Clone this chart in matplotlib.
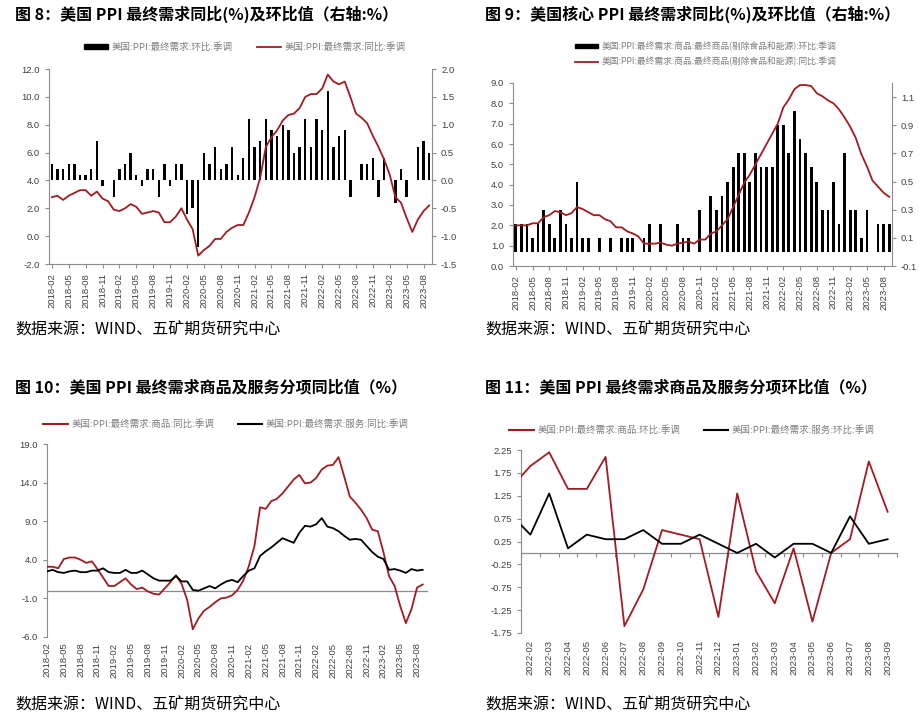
import numpy as np
import pandas as pd
import matplotlib
matplotlib.use('Agg')
import matplotlib.pyplot as plt
from matplotlib.lines import Line2D
from matplotlib.patches import Patch

plt.rcParams['font.family'] = ['Noto Sans CJK SC', 'DejaVu Sans']

# ---------------- data ----------------
months = list(pd.period_range('2018-02', '2023-09', freq='M').strftime('%Y-%m'))

# Fig 8: PPI final demand
ppi_mom = [0.3, 0.2, 0.2, 0.3, 0.3, 0.1, 0.1, 0.2, 0.7, -0.1, 0.0,
           -0.3, 0.2, 0.3, 0.5, 0.1, -0.1, 0.2, 0.2, -0.3, 0.3, -0.1, 0.3,
           0.3, -0.6, -0.5, -1.2, 0.5, 0.3, 0.6, 0.2, 0.3, 0.6, 0.1, 0.4,
           1.1, 0.6, 0.7, 1.1, 0.9, 0.8, 1.0, 0.9, 0.5, 0.6, 1.1, 0.6,
           1.1, 0.9, 1.6, 0.6, 0.8, 0.9, -0.3, 0.0, 0.3, 0.3, 0.4, -0.3,
           0.4, 0.0, -0.4, 0.2, -0.3, 0.0, 0.6, 0.7, 0.5]
ppi_yoy = [2.8, 2.9, 2.6, 2.9, 3.1, 3.3, 3.3, 2.9, 3.2, 2.7, 2.5,
           1.9, 1.8, 2.0, 2.3, 2.1, 1.6, 1.7, 1.8, 1.7, 1.0, 1.0, 1.4,
           2.0, 1.2, 0.5, -1.4, -1.0, -0.7, -0.2, -0.2, 0.3, 0.6, 0.8, 0.8,
           1.7, 2.8, 4.2, 6.4, 7.1, 7.6, 8.3, 8.7, 8.8, 9.2, 10.0, 10.2,
           10.2, 10.6, 11.6, 11.1, 10.9, 11.1, 10.0, 8.8, 8.5, 8.1, 7.2, 6.4,
           5.5, 4.4, 2.8, 2.4, 1.3, 0.3, 1.2, 1.8, 2.2]

# Fig 9: core goods
core_mom = [0.2, 0.2, 0.2, 0.1, 0.2, 0.3, 0.2, 0.1, 0.3, 0.2, 0.1,
            0.5, 0.1, 0.1, 0.0, 0.1, 0.0, 0.1, 0.0, 0.1, 0.1, 0.1, 0.0,
            0.1, 0.2, 0.0, 0.2, 0.0, 0.0, 0.2, 0.1, 0.1, 0.0, 0.3, 0.0,
            0.4, 0.3, 0.4, 0.5, 0.6, 0.7, 0.7, 0.5, 0.7, 0.6, 0.6, 0.6,
            0.9, 0.9, 0.7, 1.0, 0.8, 0.7, 0.6, 0.5, 0.3, 0.3, 0.5, 0.2,
            0.7, 0.3, 0.3, 0.1, 0.3, 0.0, 0.2, 0.2, 0.2]
core_yoy = [2.0, 2.0, 2.0, 2.1, 2.1, 2.4, 2.5, 2.7, 2.65, 2.5, 2.6,
            2.9, 2.8, 2.65, 2.5, 2.5, 2.3, 2.2, 1.9, 1.9, 1.7, 1.6, 1.45,
            1.1, 1.1, 1.1, 1.15, 1.05, 1.0, 1.1, 1.15, 1.2, 1.1, 1.3, 1.3,
            1.6, 1.7, 2.0, 2.3, 2.9, 3.5, 4.1, 4.5, 5.0, 5.5, 6.0, 6.5,
            7.0, 7.8, 8.2, 8.7, 8.9, 8.9, 8.85, 8.5, 8.35, 8.15, 8.0, 7.7,
            7.3, 6.85, 6.3, 5.5, 4.9, 4.2, 3.9, 3.6, 3.4]

# Fig 10: goods / services YoY
goods_yoy = [3.1, 3.1, 2.9, 4.1, 4.3, 4.3, 4.0, 3.6, 3.8, 2.8, 1.7,
             0.6, 0.6, 1.1, 1.6, 0.8, 0.2, 0.4, -0.1, -0.4, -0.5, 0.3, 1.1,
             2.0, 0.9, -1.2, -5.0, -3.6, -2.6, -2.1, -1.5, -1.0, -0.9, -0.6, 0.1,
             1.3, 3.2, 5.8, 10.8, 10.6, 11.6, 11.9, 12.6, 13.5, 14.4, 15.0, 13.9,
             14.0, 14.6, 15.7, 16.2, 16.3, 17.3, 14.8, 12.2, 11.4, 10.5, 9.4, 7.9,
             7.7, 5.0, 1.9, 0.6, -2.0, -4.2, -2.4, 0.4, 0.8]
serv_yoy = [2.5, 2.7, 2.4, 2.3, 2.5, 2.6, 2.4, 2.4, 2.6, 2.6, 2.9,
            2.4, 2.3, 2.3, 2.7, 2.3, 2.3, 2.6, 2.1, 1.6, 1.3, 1.3, 1.3,
            1.9, 1.2, 1.2, 0.1, 0.0, 0.3, 0.6, 0.3, 0.8, 1.2, 1.4, 1.1,
            1.9, 2.6, 2.9, 4.5, 5.1, 5.6, 6.2, 6.8, 6.5, 6.2, 7.5, 8.4,
            8.3, 8.6, 9.4, 8.3, 8.1, 7.7, 7.1, 6.6, 6.7, 6.6, 5.8, 5.0,
            4.4, 4.1, 2.7, 2.8, 2.6, 2.3, 2.8, 2.6, 2.7]

# Fig 11: goods / services MoM (first month lies just left of the axis)
months11 = list(pd.period_range('2022-01', '2023-09', freq='M').strftime('%Y-%m'))
goods_mom = [1.44, 1.9, 2.2, 1.4, 1.4, 2.1, -1.6, -0.8, 0.5, 0.4, 0.3, -1.4,
             1.3, -0.4, -1.1, 0.1, -1.5, 0.0, 0.3, 2.0, 0.9]
serv_mom = [0.82, 0.4, 1.3, 0.1, 0.4, 0.3, 0.3, 0.5, 0.2, 0.2, 0.4, 0.2,
            0.0, 0.2, -0.1, 0.2, 0.2, 0.0, 0.8, 0.2, 0.3]

# ---------------- styling ----------------
W, H = 920, 720
RED = '#A01C22'
AX = '#8c8c8c'
TXT = '#404040'
NUMFONT = ['Liberation Sans', 'DejaVu Sans']

fig = plt.figure(figsize=(W / 100, H / 100), dpi=100)


def rect(l, t, r, b):
    return [l / W, 1 - b / H, (r - l) / W, (b - t) / H]


def fx(x):
    return x / W


def fy(y):
    return 1 - y / H


def style(ax, left=True, right=False, bottom=True):
    for s in ['top', 'right', 'left', 'bottom']:
        ax.spines[s].set_visible(False)
    if left:
        ax.spines['left'].set_visible(True)
        ax.spines['left'].set_color(AX)
    if right:
        ax.spines['right'].set_visible(True)
        ax.spines['right'].set_color(AX)
    if bottom:
        ax.spines['bottom'].set_visible(True)
        ax.spines['bottom'].set_color(AX)
    ax.tick_params(colors=AX, labelcolor=TXT, labelsize=6.8, length=3, width=0.8)
    for lab in ax.get_xticklabels() + ax.get_yticklabels():
        lab.set_family(NUMFONT)


def xlabels(ax, labels, step, rot=90):
    idx = list(range(0, len(labels), step))
    ax.set_xticks(idx)
    ax.set_xticklabels([labels[i] for i in idx], rotation=rot, family=NUMFONT,
                       fontsize=6.8, color=TXT)


def title(x, y, s):
    fig.text(fx(x), fy(y), s, fontsize=11.5, fontweight='bold', va='center', ha='left',
             color='black')


def source(x, y):
    fig.text(fx(x), fy(y), '数据来源：WIND、五矿期货研究中心', fontsize=11.5,
             va='center', ha='left', color='black')


leg_kw = dict(frameon=False, fontsize=6.8, labelcolor='#7f7f7f', handlelength=2.6,
              handletextpad=0.4, columnspacing=2.5, borderpad=0, labelspacing=0.6)

# ---------------- Fig 8 ----------------
n = len(months)
x = np.arange(n)
ax8 = fig.add_axes(rect(49, 69, 432, 264))
ax8r = ax8.twinx()
ax8r.bar(x, ppi_mom, width=0.42, color='black', zorder=2)
ax8.plot(x, ppi_yoy, color=RED, lw=1.3, zorder=3)
ax8.set_zorder(ax8r.get_zorder() + 1)
ax8.patch.set_visible(False)
ax8.set_xlim(-0.5, n - 0.5)
ax8.set_ylim(-2, 12)
ax8.set_yticks(np.arange(-2, 12.1, 2))
ax8.set_yticklabels([f'{v:.1f}' for v in np.arange(-2, 12.1, 2)])
ax8r.set_ylim(-1.5, 2.0)
ax8r.set_yticks(np.arange(-1.5, 2.01, 0.5))
ax8r.set_yticklabels([f'{v:.1f}' for v in np.arange(-1.5, 2.01, 0.5)])
style(ax8, left=True, bottom=True)
style(ax8r, left=False, right=True, bottom=False)
xlabels(ax8, months, 3)
title(15, 14, '图 8：美国 PPI 最终需求同比(%)及环比值（右轴:%）')
fig.legend([Patch(color='black'), Line2D([], [], color=RED, lw=1.3)],
           ['美国:PPI:最终需求:环比:季调', '美国:PPI:最终需求:同比:季调'],
           loc='center', bbox_to_anchor=(fx(245), fy(47)), ncol=2,
           handleheight=0.35, **leg_kw)
source(15, 330)

# ---------------- Fig 9 ----------------
ax9 = fig.add_axes(rect(513, 83, 892, 266))
ax9r = ax9.twinx()
ax9r.bar(x, core_mom, width=0.5, color='black', zorder=2)
ax9.plot(x, core_yoy, color=RED, lw=1.3, zorder=3)
ax9.set_zorder(ax9r.get_zorder() + 1)
ax9.patch.set_visible(False)
ax9.set_xlim(-0.5, n - 0.5)
ax9.set_ylim(0, 9)
ax9.set_yticks(np.arange(0, 9.1, 1))
ax9.set_yticklabels([f'{v:.1f}' for v in np.arange(0, 9.1, 1)])
ax9r.set_ylim(-0.1, 1.2)
r9 = np.arange(-0.1, 1.11, 0.2)
ax9r.set_yticks(r9)
ax9r.set_yticklabels([f'{v:.1f}' for v in r9])
style(ax9, left=True, bottom=True)
style(ax9r, left=False, right=True, bottom=False)
xlabels(ax9, months, 3)
title(485, 14, '图 9：美国核心 PPI 最终需求同比(%)及环比值（右轴:%）')
fig.legend([Patch(color='black'), Line2D([], [], color=RED, lw=1.3)],
           ['美国:PPI:最终需求:商品:最终商品(剔除食品和能源):环比:季调',
            '美国:PPI:最终需求:商品:最终商品(剔除食品和能源):同比:季调'],
           loc='center', bbox_to_anchor=(fx(706), fy(54)), ncol=1,
           handleheight=0.35, **{**leg_kw, 'fontsize': 6.3})
source(485, 330)

# ---------------- Fig 10 ----------------
ax10 = fig.add_axes(rect(47, 444, 428, 637))
ax10.plot(x, goods_yoy, color=RED, lw=1.3, zorder=3)
ax10.plot(x, serv_yoy, color='black', lw=1.3, zorder=3)
ax10.axhline(0, color=AX, lw=0.9, zorder=1)
ax10.set_xlim(0, n - 0.05)
ax10.set_ylim(-6, 19)
yt10 = np.arange(-6, 19.1, 5)
ax10.set_yticks(yt10)
ax10.set_yticklabels([f'{v:.1f}' for v in yt10])
style(ax10, left=True, bottom=False)
xlabels(ax10, months, 3)
ax10.tick_params(axis='x', length=0, pad=4)
title(15, 387, '图 10：美国 PPI 最终需求商品及服务分项同比值（%）')
fig.legend([Line2D([], [], color=RED, lw=1.5), Line2D([], [], color='black', lw=1.5)],
           ['美国:PPI:最终需求:商品:同比:季调', '美国:PPI:最终需求:服务:同比:季调'],
           loc='center', bbox_to_anchor=(fx(226), fy(424)), ncol=2, **leg_kw)
source(15, 705)

# ---------------- Fig 11 ----------------
x11 = np.arange(len(months11)) - 1          # 2022-01 sits left of the axis
ax11 = fig.add_axes(rect(521, 450, 897, 633))
ax11.plot(x11, goods_mom, color=RED, lw=1.3, zorder=3)
ax11.plot(x11, serv_mom, color='black', lw=1.3, zorder=3)
ax11.set_xlim(-0.5, len(months11) - 1.5)
ax11.set_ylim(-1.75, 2.25)
yt11 = np.arange(-1.75, 2.26, 0.5)
ax11.set_yticks(yt11)
ax11.set_yticklabels([f'{v:.2f}' for v in yt11])
style(ax11, left=True, bottom=False)
ax11.set_xticks(np.arange(len(months11) - 1))
ax11.set_xticklabels(months11[1:], rotation=90, family=NUMFONT, fontsize=6.8, color=TXT)
ax11.tick_params(axis='x', length=0, pad=5)
zero_pos = (0 - (-1.75)) / (2.25 - (-1.75))
sec = ax11.secondary_xaxis(zero_pos)
sec.set_xticks(np.arange(-0.5, len(months11) - 1, 1.0))
sec.set_xticklabels([])
sec.tick_params(direction='out', length=3, color=AX, width=0.8)
sec.spines['bottom'].set_color(AX)
sec.spines['bottom'].set_linewidth(0.9)
title(485, 387, '图 11：美国 PPI 最终需求商品及服务分项环比值（%）')
fig.legend([Line2D([], [], color=RED, lw=1.5), Line2D([], [], color='black', lw=1.5)],
           ['美国:PPI:最终需求:商品:环比:季调', '美国:PPI:最终需求:服务:环比:季调'],
           loc='center', bbox_to_anchor=(fx(692), fy(430)), ncol=2, **leg_kw)
source(485, 705)

fig.savefig('out.png', dpi=100, facecolor='white')
